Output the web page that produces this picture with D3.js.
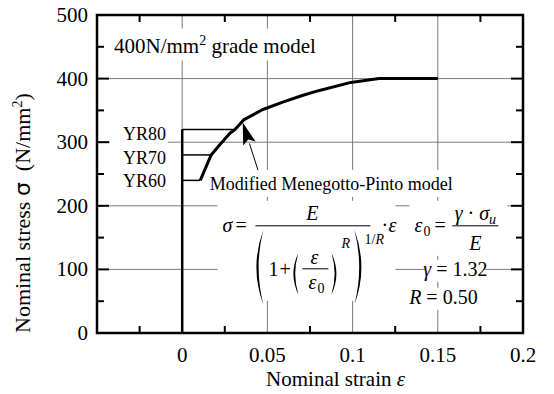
<!DOCTYPE html>
<html>
<head>
<meta charset="utf-8">
<script src="https://cdn.jsdelivr.net/npm/d3@7"></script>
</head>
<body style="margin:0">
<svg id="chart" width="554" height="394"></svg>
<script>
// ---- data ----
const xTickValues = [-0.05, 0, 0.05, 0.1, 0.15, 0.2];
const xTickLabels = ['', '0', '0.05', '0.1', '0.15', '0.2'];
const xMinorTicks = [-0.025, 0.025, 0.075, 0.125, 0.175];
const yTickValues = [0, 100, 200, 300, 400, 500];
const yMinorTicks = [50, 150, 250, 350, 450];
const xGrid = [0, 0.05, 0.1, 0.15];
const yGrid = [100, 200, 300, 400];

// elastic branch on the stress axis
const elasticStrain = [0, 0];
const elasticStress = [0, 320];

// yield plateaus
const yrNames = ['YR80', 'YR70', 'YR60'];
const yrStress = [320, 280, 240];
const yrStrainEnd = [0.031, 0.017, 0.0106];

// hardening curve (Menegotto-Pinto)
const curveStrain = [0.0106, 0.017, 0.0214, 0.028, 0.031, 0.036, 0.047, 0.059, 0.070, 0.080, 0.099, 0.1155, 0.15];
const curveStress = [240, 280, 294, 314, 320, 335, 351, 363, 373, 381, 394, 400, 400];

// arrow pointing at the curve (tail, tip)
const arrowStrain = [0.0445, 0.0355];
const arrowStress = [256, 331];

const W = 554, H = 394;
const margin = { top: 15, right: 31, bottom: 61, left: 97 };

const s = d3.select('#chart');

const x = d3.scaleLinear().domain([-0.05, 0.2]).range([margin.left, W - margin.right]);
const y = d3.scaleLinear().domain([0, 500]).range([H - margin.bottom, margin.top]);

// grid lines
xGrid.forEach(v => {
  s.append('line').attr('x1', x(v)).attr('x2', x(v)).attr('y1', y(0)).attr('y2', y(500))
    .attr('stroke', '#7a7a7a').attr('stroke-width', 1);
});
yGrid.forEach(v => {
  s.append('line').attr('x1', x(-0.05)).attr('x2', x(0.2)).attr('y1', y(v)).attr('y2', y(v))
    .attr('stroke', '#7a7a7a').attr('stroke-width', 1);
});

// white patch behind a label (cuts the grid), in pixels around an anchor
function patch(cx, cy, dx0, dy0, w, h) {
  s.append('rect').attr('x', cx + dx0).attr('y', cy + dy0)
    .attr('width', w).attr('height', h).attr('fill', '#fff');
}

const tx0 = x(-0.04), ty0 = y(441);
patch(tx0, ty0, -10, -24, 234, 32);
const yrX = x(-0.0095);
yrStress.forEach((v, i) => patch(yrX, y(v) + 11 - i * 2, -56, -16, 58, 20));
const mx = x(0.0875), my = y(225);
patch(mx, my, -134, -20, 268, 27);
const fx = x(0.05), fy = y(200);
patch(fx, fy, -50, -5, 178, 100);
patch(fx, fy, 142, -5, 98, 55);
patch(fx, fy, 158, 54, 60, 22);
patch(fx, fy, 134, 82, 86, 22);

// ---- data marks ----
const line = d3.line().x(d => x(d[0])).y(d => y(d[1]));

s.append('path')
  .attr('d', line(elasticStrain.map((v, i) => [v, elasticStress[i]])))
  .attr('stroke', '#000').attr('stroke-width', 2.5).attr('fill', 'none');

yrStress.forEach((v, i) => {
  s.append('path').attr('d', line([[0, v], [yrStrainEnd[i], v]]))
    .attr('stroke', '#000').attr('stroke-width', 1.5).attr('fill', 'none');
});

s.append('path')
  .attr('d', line(curveStrain.map((v, i) => [v, curveStress[i]])))
  .attr('stroke', '#000').attr('stroke-width', 3).attr('stroke-linejoin', 'round').attr('fill', 'none');

// arrow
const ax0 = x(arrowStrain[0]), ay0 = y(arrowStress[0]);
const ax1 = x(arrowStrain[1]), ay1 = y(arrowStress[1]);
const ang = Math.atan2(ay1 - ay0, ax1 - ax0);
const headL = 22, headW = 6.5;
const bx = ax1 - headL * Math.cos(ang), by = ay1 - headL * Math.sin(ang);
const nx = -Math.sin(ang), ny = Math.cos(ang);
s.append('line').attr('x1', ax0).attr('y1', ay0).attr('x2', bx).attr('y2', by)
  .attr('stroke', '#000').attr('stroke-width', 1);
s.append('path')
  .attr('d', `M${ax1},${ay1}L${bx + nx * headW},${by + ny * headW}L${bx + 4 * Math.cos(ang)},${by + 4 * Math.sin(ang)}L${bx - nx * headW},${by - ny * headW}Z`)
  .attr('fill', '#000');

// ---- frame and ticks ----
s.append('rect')
  .attr('x', x(-0.05)).attr('y', y(500))
  .attr('width', x(0.2) - x(-0.05)).attr('height', y(0) - y(500))
  .attr('fill', 'none').attr('stroke', '#000').attr('stroke-width', 2.5);

function ticks(vals, len, horiz) {
  vals.forEach(v => {
    if (horiz) {
      s.append('line').attr('x1', x(v)).attr('x2', x(v)).attr('y1', y(0)).attr('y2', y(0) - len).attr('stroke', '#000').attr('stroke-width', 2);
      s.append('line').attr('x1', x(v)).attr('x2', x(v)).attr('y1', y(500)).attr('y2', y(500) + len).attr('stroke', '#000').attr('stroke-width', 2);
    } else {
      s.append('line').attr('x1', x(-0.05)).attr('x2', x(-0.05) + len).attr('y1', y(v)).attr('y2', y(v)).attr('stroke', '#000').attr('stroke-width', 2);
      s.append('line').attr('x1', x(0.2)).attr('x2', x(0.2) - len).attr('y1', y(v)).attr('y2', y(v)).attr('stroke', '#000').attr('stroke-width', 2);
    }
  });
}
ticks(xMinorTicks, 7, true);
ticks(yMinorTicks, 7, false);
ticks(yTickValues, 12, false);

// ---- all text, appended straight onto the svg ----
function txt(size) {
  return s.append('text').attr('font-family', '"Liberation Serif"').attr('font-size', size);
}

xTickValues.forEach((v, i) => {
  txt(21).attr('x', x(v)).attr('y', y(0) + 29).attr('text-anchor', 'middle').text(xTickLabels[i]);
});
yTickValues.forEach(v => {
  txt(21).attr('x', x(-0.05) - 9).attr('y', y(v) + 7).attr('text-anchor', 'end').text(v);
});

const xt = txt(21).attr('x', x(0.09)).attr('y', H - 8).attr('text-anchor', 'middle');
xt.append('tspan').text('Nominal strain ');
xt.append('tspan').attr('font-style', 'italic').text('ε');

const yt = txt(22).attr('transform', `translate(30,${y(0)}) rotate(-90)`);
yt.append('tspan').text('Nominal stress ');
yt.append('tspan').attr('font-family', '"DejaVu Sans"').text('σ');
yt.append('tspan').text('\u00a0\u00a0(N/mm');
yt.append('tspan').attr('dy', -8).attr('font-size', 14).text('2');
yt.append('tspan').attr('dy', 8).text(')');

const title = txt(21).attr('x', tx0).attr('y', ty0);
title.append('tspan').text('400N/mm');
title.append('tspan').attr('dy', -8).attr('font-size', 14).text('2');
title.append('tspan').attr('dy', 8).text(' grade model');

yrNames.forEach((name, i) => {
  txt(18).attr('x', yrX).attr('y', y(yrStress[i]) + 11 - i * 2).attr('text-anchor', 'end').text(name);
});

txt(18).attr('x', mx).attr('y', my).attr('text-anchor', 'middle').text('Modified Menegotto-Pinto model');

// formula, offsets from the (0.05, 200) grid crossing
const fs = 20, ss = 14;
function t(dx, dy, str, opt) {
  opt = opt || {};
  const e = txt(opt.size || fs).attr('x', fx + dx).attr('y', fy + dy)
    .attr('text-anchor', opt.anchor || 'start').text(str);
  if (opt.italic) e.attr('font-style', 'italic');
  return e;
}
function paren(dx, dy0, dy1, w, th, left) {
  const x0 = fx + dx, y0 = fy + dy0, y1 = fy + dy1, mid = (y0 + y1) / 2;
  const d = left
    ? `M${x0 + w},${y0}Q${x0 - w},${mid} ${x0 + w},${y1}Q${x0 - w + 2 * th},${mid} ${x0 + w},${y0}Z`
    : `M${x0 - w},${y0}Q${x0 + w},${mid} ${x0 - w},${y1}Q${x0 + w - 2 * th},${mid} ${x0 - w},${y0}Z`;
  s.append('path').attr('d', d).attr('fill', '#000');
}
function bar(dx0, dx1, dy) {
  s.append('line').attr('x1', fx + dx0).attr('x2', fx + dx1).attr('y1', fy + dy).attr('y2', fy + dy)
    .attr('stroke', '#000').attr('stroke-width', 1);
}

t(-45, 26, 'σ', { italic: true });
t(-32, 26, '=');
bar(-12, 103, 20);
t(45, 14, 'E', { italic: true, anchor: 'middle' });
paren(-11, 24, 99, 7, 2.2, true);
t(1, 70, '1');
t(12, 70, '+');
paren(26, 47, 89, 5, 1.8, true);
t(47, 58, 'ε', { italic: true, anchor: 'middle' });
bar(35, 61, 63);
t(45, 83, 'ε', { italic: true, anchor: 'middle' });
t(50, 87, '0', { size: ss });
paren(69, 47, 89, 5, 1.8, false);
t(74, 42, 'R', { italic: true, size: ss });
paren(94, 24, 99, 7, 2.2, false);
t(97, 38, '1/', { size: ss });
t(108, 38, 'R', { italic: true, size: ss });
t(114, 26, '·');
t(121, 26, 'ε', { italic: true });

t(147, 26, 'ε', { italic: true });
t(156, 30, '0', { size: ss });
t(167, 26, '=');
bar(185, 231, 20);
const num = t(208, 14, '', { anchor: 'middle' });
num.append('tspan').attr('font-style', 'italic').text('γ');
num.append('tspan').text(' · ');
num.append('tspan').attr('font-style', 'italic').text('σ');
num.append('tspan').attr('dy', 4).attr('font-size', ss).attr('font-style', 'italic').text('u');
t(208, 44, 'E', { italic: true, anchor: 'middle' });

const gam = t(188, 70, '', { anchor: 'middle' });
gam.append('tspan').attr('font-style', 'italic').text('γ');
gam.append('tspan').text(' = 1.32');

const rr = t(176, 98, '', { anchor: 'middle' });
rr.append('tspan').attr('font-style', 'italic').text('R');
rr.append('tspan').text(' = 0.50');
</script>
</body>
</html>
